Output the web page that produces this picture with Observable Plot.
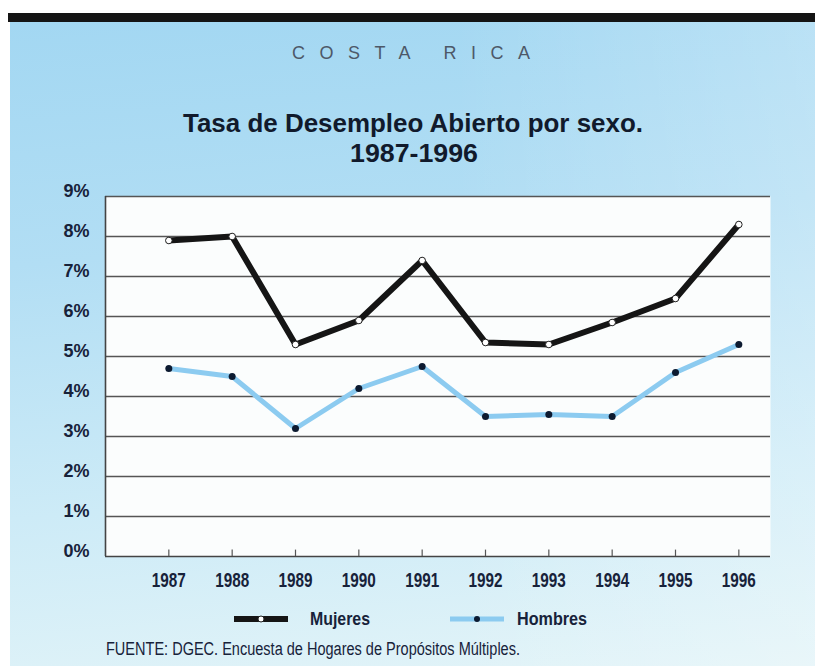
<!DOCTYPE html>
<html>
<head>
<meta charset="utf-8">
<script src="https://cdn.jsdelivr.net/npm/d3@7"></script>
<script src="https://cdn.jsdelivr.net/npm/@observablehq/plot@0.6"></script>
<style>
  html, body { margin: 0; padding: 0; background: #fff; }
  #page { position: relative; width: 815px; height: 666px; overflow: hidden; background: #fff; }
  #panel { position: absolute; left: 10px; top: 13px; width: 805px; height: 653px;
    background:
      linear-gradient(90deg, rgba(255,255,255,0) 55%, rgba(255,255,255,0.22) 100%),
      linear-gradient(175deg, #a2d7f2 0%, #b2def4 35%, #cdebf7 70%, #e3f4f8 100%); }
  #bar { position: absolute; left: 8px; top: 13px; width: 807px; height: 9px; background: #141414; }
  #chart { position: absolute; left: 0; top: 170px; }
  #overlay { position: absolute; left: 0; top: 0; }
</style>
</head>
<body>
<div id="page">
  <div id="panel"></div>
  <div id="bar"></div>
  <div id="chart"></div>
  <svg id="overlay" width="815" height="666"></svg>
</div>
<script>
// ---- data ----
const years = [1987, 1988, 1989, 1990, 1991, 1992, 1993, 1994, 1995, 1996];
const mujeres = [7.9, 8.0, 5.3, 5.9, 7.4, 5.35, 5.3, 5.85, 6.45, 8.3];
const hombres = [4.7, 4.5, 3.2, 4.2, 4.75, 3.5, 3.55, 3.5, 4.6, 5.3];
const yTicks = [0, 1, 2, 3, 4, 5, 6, 7, 8, 9];
const seriesNames = ["Mujeres", "Hombres"];
const country = "COSTA RICA";
const titleLine1 = "Tasa de Desempleo Abierto por sexo.";
const titleLine2 = "1987-1996";
const source = "FUENTE:  DGEC. Encuesta de Hogares de Propósitos Múltiples.";

const FONT = '"Liberation Sans Narrow", "Liberation Sans", Arial, sans-serif';
const INK = "#17223a";
const MUJ_COLOR = "#151515";
const HOM_COLOR = "#8ccbf0";

const dataM = years.map((y, i) => ({year: y, value: mujeres[i]}));
const dataH = years.map((y, i) => ({year: y, value: hombres[i]}));

const chart = Plot.plot({
  width: 815,
  height: 440,
  marginLeft: 105,
  marginRight: 45,
  marginTop: 26,
  marginBottom: 54,
  x: {domain: [1986, 1996.5]},
  y: {domain: [0, 9]},
  style: {background: "transparent", fontFamily: FONT, color: INK, overflow: "visible"},
  marks: [
    Plot.frame({fill: "#fbfdfd", stroke: "none"}),
    Plot.ruleY(yTicks.filter(d => d > 0), {stroke: "#555", strokeWidth: 1.3}),
    Plot.ruleY([0], {stroke: "#444", strokeWidth: 1.6}),
    Plot.ruleX([1986], {y1: 0, y2: 9, stroke: "#444", strokeWidth: 1.6}),
    Plot.ruleX(years, {x: d => d, y1: 0, y2: 0.16, stroke: "#555", strokeWidth: 1.2}),
    Plot.line(dataM, {x: "year", y: "value", stroke: MUJ_COLOR, strokeWidth: 6}),
    Plot.line(dataH, {x: "year", y: "value", stroke: HOM_COLOR, strokeWidth: 5}),
    Plot.dot(dataM, {x: "year", y: "value", r: 3.3, fill: "#ffffff", stroke: "#222", strokeWidth: 1}),
    Plot.dot(dataH, {x: "year", y: "value", r: 3.5, fill: "#0c1a30", stroke: "none"}),
    Plot.axisY({ticks: yTicks, tickFormat: d => d + "%", tickSize: 0, tickPadding: 16, dy: -5.5,
      label: null, fontSize: 19, fontWeight: "bold", fill: INK}),
    Plot.axisX({ticks: years, tickFormat: d => String(d), tickSize: 0, tickPadding: 16,
      label: null, fontSize: 21, fontWeight: "bold", fill: INK})
  ]
});
document.getElementById("chart").appendChild(chart);

// condense axis labels to the narrow look of the original
chart.querySelectorAll('g[aria-label="x-axis tick label"] text').forEach(t => {
  t.setAttribute("textLength", 34); t.setAttribute("lengthAdjust", "spacingAndGlyphs");
});
chart.querySelectorAll('g[aria-label="y-axis tick label"] text').forEach(t => {
  t.setAttribute("textLength", 26); t.setAttribute("lengthAdjust", "spacingAndGlyphs");
});

// ---- header, legend, caption ----
const ov = d3.select("#overlay");
function txt(s, x, y, size, weight, fill, len, adjust) {
  return ov.append("text").attr("x", x).attr("y", y).text(s)
    .attr("font-family", FONT).attr("font-size", size).attr("font-weight", weight)
    .attr("fill", fill).attr("textLength", len).attr("lengthAdjust", adjust || "spacingAndGlyphs");
}
txt(country, 292, 59, 18, "normal", "#4d5868", 238, "spacing");
txt(titleLine1, 183, 132, 26, "bold", "#111a2c", 460);
txt(titleLine2, 350, 162, 26, "bold", "#111a2c", 128);

// legend
const legend = [
  {name: seriesNames[0], x0: 234, x1: 288, tx: 310, tl: 60, color: MUJ_COLOR, w: 6, dotFill: "#fff", dotStroke: "#222"},
  {name: seriesNames[1], x0: 450, x1: 504, tx: 517, tl: 70, color: HOM_COLOR, w: 5, dotFill: "#0c1a30", dotStroke: "none"}
];
legend.forEach(l => {
  ov.append("line").attr("x1", l.x0).attr("x2", l.x1).attr("y1", 619).attr("y2", 619)
    .attr("stroke", l.color).attr("stroke-width", l.w);
  ov.append("circle").attr("cx", (l.x0 + l.x1) / 2).attr("cy", 619).attr("r", 3)
    .attr("fill", l.dotFill).attr("stroke", l.dotStroke);
  txt(l.name, l.tx, 625, 19, "bold", INK, l.tl);
});

txt(source, 106, 655, 18, "normal", INK, 414);
</script>
</body>
</html>
